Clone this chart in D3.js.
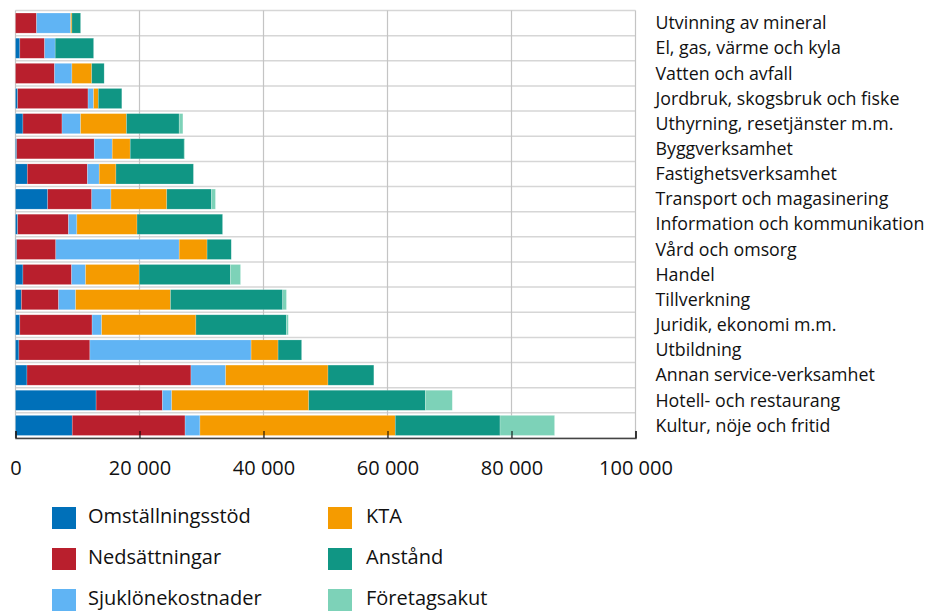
<!DOCTYPE html>
<html>
<head>
<meta charset="utf-8">
<script src="https://cdn.jsdelivr.net/npm/d3@7"></script>
<style>
  body { margin: 0; background: #fff; }
  svg { display: block; font-family: "Open Sans", sans-serif; }
</style>
</head>
<body>
<svg id="chart" width="928" height="611"></svg>
<script>
'use strict';

var categories = [
    "Utvinning av mineral",
    "El, gas, värme och kyla",
    "Vatten och avfall",
    "Jordbruk, skogsbruk och fiske",
    "Uthyrning, resetjänster m.m.",
    "Byggverksamhet",
    "Fastighetsverksamhet",
    "Transport och magasinering",
    "Information och kommunikation",
    "Vård och omsorg",
    "Handel",
    "Tillverkning",
    "Juridik, ekonomi m.m.",
    "Utbildning",
    "Annan service-verksamhet",
    "Hotell- och restaurang",
    "Kultur, nöje och fritid"
];

var seriesNames = ["Omställningsstöd", "Nedsättningar", "Sjuklönekostnader", "KTA", "Anstånd", "Företagsakut"];
var seriesColors = ["#0070b9", "#b91f2d", "#60b4f4", "#f59b00", "#109684", "#7dd2b8"];

var omstallningsstod   = [0, 700, 0, 350, 1200, 200, 1900, 5200, 350, 200, 1200, 950, 700, 550, 1850, 13000, 9150];
var nedsattningar      = [3400, 4000, 6300, 11350, 6300, 12500, 9700, 7100, 8200, 6300, 7850, 6000, 11650, 11450, 26450, 10700, 18200];
var sjuklonekostnader  = [5500, 1700, 2800, 900, 3000, 2900, 1900, 3100, 1350, 19900, 2250, 2750, 1550, 26000, 5600, 1500, 2400];
var kta                = [200, 0, 3200, 750, 7400, 2900, 2700, 9000, 9700, 4500, 8650, 15300, 15200, 4350, 16500, 22100, 31500];
var anstand            = [1400, 6200, 2000, 3800, 8500, 8700, 12500, 7200, 13800, 3900, 14700, 18100, 14600, 3800, 7400, 18800, 16900];
var foretagsakut       = [0, 0, 0, 0, 600, 100, 0, 650, 0, 0, 1650, 600, 300, 0, 0, 4350, 8800];

var xTicks = [0, 20000, 40000, 60000, 80000, 100000];

// build table for the stack
var table = categories.map(function(c, i){
    return {
        cat: c,
        "Omställningsstöd": omstallningsstod[i],
        "Nedsättningar": nedsattningar[i],
        "Sjuklönekostnader": sjuklonekostnader[i],
        "KTA": kta[i],
        "Anstånd": anstand[i],
        "Företagsakut": foretagsakut[i]
    };
});

var margin = {top: 10.5, left: 15.5},
    width  = 620,
    height = 427.5;

var svg = d3.select("#chart"),
    g = svg.append("g").attr("transform", "translate(" + margin.left + "," + margin.top + ")");

var x = d3.scaleLinear().domain([0, 100000]).range([0, width]),
    y = d3.scaleBand().domain(categories).range([0, height]).paddingInner(0.2).paddingOuter(0.1),
    color = d3.scaleOrdinal().domain(seriesNames).range(seriesColors);

var step = y.step();

// horizontal grid lines at band boundaries
var rows = categories.map(function(c){ return y(c) - step * 0.1; });
rows.push(height);
g.selectAll("line.hgrid").data(rows).enter().append("line")
    .attr("class", "hgrid")
    .attr("x1", 0).attr("x2", width)
    .attr("y1", function(d){ return d; }).attr("y2", function(d){ return d; })
    .style("stroke", "#d6d6d6")
    .style("stroke-width", 1.5);

// vertical grid lines
g.selectAll("line.vgrid").data(xTicks).enter().append("line")
    .attr("class", "vgrid")
    .attr("x1", function(d){ return x(d); }).attr("x2", function(d){ return x(d); })
    .attr("y1", 0).attr("y2", height)
    .style("stroke", "#c4c4c4")
    .style("stroke-width", 1.2);

// stacked bars
var stack = d3.stack().keys(seriesNames)(table);

g.selectAll("g.series").data(stack).enter().append("g")
    .attr("class", "series")
    .style("fill", function(d){ return color(d.key); })
    .selectAll("rect").data(function(d){ return d; }).enter().append("rect")
    .attr("x", function(d){ return x(d[0]); })
    .attr("width", function(d){ return Math.max(0, x(d[1]) - x(d[0])); })
    .attr("y", function(d){ return y(d.data.cat); })
    .attr("height", y.bandwidth())
    .style("stroke", "#ffffff")
    .style("stroke-opacity", 0.35)
    .style("stroke-width", 0.6);

// bottom axis with inner ticks
var xAxis = d3.axisBottom(x).tickValues(xTicks).tickSize(-7)
    .tickFormat(function(d){ return d3.format(",")(d).replace(/,/g, " "); });

var ax = g.append("g")
    .attr("transform", "translate(0," + height + ")")
    .call(xAxis);
ax.select(".domain").style("stroke", "#444").style("stroke-width", 1.5);
ax.selectAll(".tick line").style("stroke", "#000");
ax.selectAll(".tick text")
    .attr("y", 37)
    .attr("dy", 0)
    .style("font-family", "'Open Sans', sans-serif")
    .style("font-size", "20px")
    .style("fill", "#111");

// category labels on the right
g.selectAll("text.cat").data(categories).enter().append("text")
    .attr("class", "cat")
    .attr("x", 640)
    .attr("y", function(d){ return y(d) + y.bandwidth() / 2; })
    .attr("dy", "0.35em")
    .style("font-size", "17.8px")
    .style("fill", "#111")
    .text(function(d){ return d; });

// legend
var legend = svg.append("g").attr("class", "legend");
var items = legend.selectAll("g").data(seriesNames).enter().append("g")
    .attr("transform", function(d, i){
        var col = Math.floor(i / 3), row = i % 3;
        return "translate(" + (52 + col * 276) + "," + (507 + row * 41) + ")";
    });
items.append("rect")
    .attr("width", 24).attr("height", 22)
    .style("fill", function(d){ return color(d); });
items.append("text")
    .attr("x", function(d, i){ return i < 3 ? 36 : 38; })
    .attr("y", 16)
    .style("font-size", "20px")
    .style("fill", "#111")
    .text(function(d){ return d; });
</script>
</body>
</html>
